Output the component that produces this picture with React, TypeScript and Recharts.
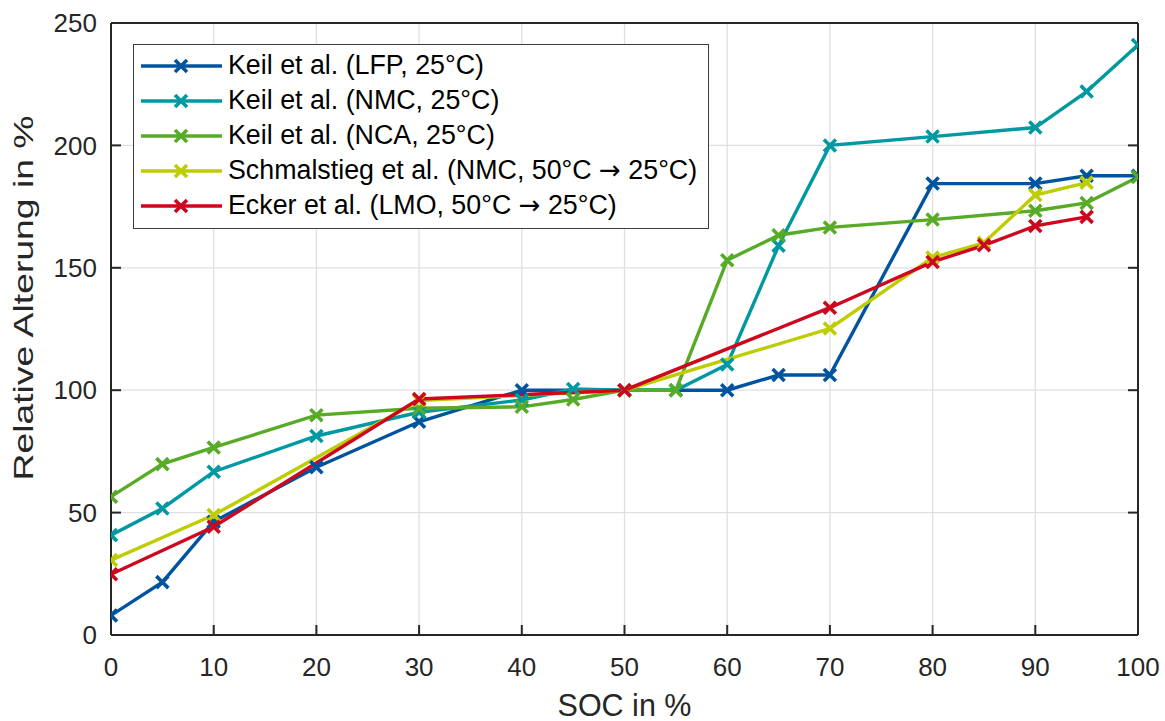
import { LineChart, Line, XAxis, YAxis, CartesianGrid, Label } from 'recharts';

// SOC ticks / Alterung ticks
const socTicks = [0, 10, 20, 30, 40, 50, 60, 70, 80, 90, 100];
const alterungTicks = [0, 50, 100, 150, 200, 250];

// Keil et al. (LFP, 25°C)
const lfpSoc = [0, 5, 10, 20, 30, 40, 50, 60, 65, 70, 80, 90, 95, 100];
const lfpAlterung = [8, 21.6, 46.3, 68.5, 87.1, 100, 100, 100, 106.2, 106.2, 184.4, 184.4, 187.6, 187.6];

// Keil et al. (NMC, 25°C)
const nmcSoc = [0, 5, 10, 20, 30, 40, 45, 50, 55, 60, 65, 70, 80, 90, 95, 100];
const nmcAlterung = [40.8, 51.7, 66.7, 81.3, 91, 96, 100.5, 100, 100, 110.5, 159, 200, 203.6, 207.3, 222, 241];

// Keil et al. (NCA, 25°C)
const ncaSoc = [0, 5, 10, 20, 30, 40, 45, 50, 55, 60, 65, 70, 80, 90, 95, 100];
const ncaAlterung = [56.5, 69.8, 76.6, 89.8, 92.6, 93.2, 96.2, 100, 100, 153.1, 163.3, 166.5, 169.7, 173.3, 176.5, 187.1];

// Schmalstieg et al. (NMC, 50°C -> 25°C)
const schmalstiegSoc = [0, 10, 30, 50, 70, 80, 85, 90, 95];
const schmalstiegAlterung = [30.6, 49, 95.8, 100, 125.2, 154.2, 160.2, 179.7, 184.8];

// Ecker et al. (LMO, 50°C -> 25°C)
const eckerSoc = [0, 10, 30, 50, 70, 80, 85, 90, 95];
const eckerAlterung = [24.8, 44.2, 96.4, 100, 133.7, 152.4, 159.2, 167.1, 170.8];

const seriesNames = [
  'Keil et al. (LFP, 25°C)',
  'Keil et al. (NMC, 25°C)',
  'Keil et al. (NCA, 25°C)',
  'Schmalstieg et al. (NMC, 50°C \u2192 25°C)',
  'Ecker et al. (LMO, 50°C \u2192 25°C)',
];
const seriesColors = ['#00549F', '#0098A1', '#57AB27', '#BDCD00', '#CC071E'];

const toPoints = (soc: number[], values: number[]) =>
  soc.map((s, i) => ({ soc: s, alterung: values[i] }));

const seriesData = [
  toPoints(lfpSoc, lfpAlterung),
  toPoints(nmcSoc, nmcAlterung),
  toPoints(ncaSoc, ncaAlterung),
  toPoints(schmalstiegSoc, schmalstiegAlterung),
  toPoints(eckerSoc, eckerAlterung),
];

const FONT = '"Liberation Sans", Arial, Helvetica, sans-serif';
const AXIS_COLOR = '#262626';
const TICK_LEN = 10;

function makeCross(color: string) {
  return (props: any) => {
    const { cx, cy, index } = props;
    if (cx == null || cy == null) return <g key={`c-${index}`} />;
    const s = 6;
    return (
      <path
        key={`c-${index}`}
        d={`M${cx - s},${cy - s}L${cx + s},${cy + s}M${cx - s},${cy + s}L${cx + s},${cy - s}`}
        stroke={color}
        strokeWidth={3.6}
        fill='none'
      />
    );
  };
}

// inward tick marks, MATLAB style
const BottomTick = (props: any) => {
  const { x, y, payload } = props;
  const axisY = y - 23;
  return (
    <g>
      <line x1={x} y1={axisY} x2={x} y2={axisY - TICK_LEN} stroke={AXIS_COLOR} strokeWidth={2} />
      <text x={x} y={y} dy='0.71em' textAnchor='middle' fontFamily={FONT} fontSize={26} fill={AXIS_COLOR}>
        {payload.value}
      </text>
    </g>
  );
};

const LeftTick = (props: any) => {
  const { x, y, payload } = props;
  const axisX = x + 14;
  return (
    <g>
      <line x1={axisX} y1={y} x2={axisX + TICK_LEN} y2={y} stroke={AXIS_COLOR} strokeWidth={2} />
      <text x={x} y={y} dy='0.355em' textAnchor='end' fontFamily={FONT} fontSize={26} fill={AXIS_COLOR}>
        {payload.value}
      </text>
    </g>
  );
};

const TopTick = (props: any) => {
  const { x, y } = props;
  return <line x1={x} y1={y} x2={x} y2={y + TICK_LEN} stroke={AXIS_COLOR} strokeWidth={2} />;
};

const RightTick = (props: any) => {
  const { x, y } = props;
  return <line x1={x} y1={y} x2={x - TICK_LEN} y2={y} stroke={AXIS_COLOR} strokeWidth={2} />;
};

const renderYLabel = (props: any) => {
  const { viewBox } = props;
  const x = viewBox.x + 33;
  const y = 298;
  return (
    <text
      x={x}
      y={y}
      transform={`rotate(-90 ${x} ${y})`}
      textAnchor='middle'
      fontFamily={FONT}
      fontSize={28}
      fill={AXIS_COLOR}
      textLength={365}
      lengthAdjust='spacingAndGlyphs'
    >
      Relative Alterung in %
    </text>
  );
};

const renderXLabel = (props: any) => {
  const { viewBox } = props;
  return (
    <text
      x={viewBox.x + viewBox.width / 2}
      y={716}
      textAnchor='middle'
      fontFamily={FONT}
      fontSize={30.5}
      fill={AXIS_COLOR}
    >
      SOC in %
    </text>
  );
};

function LegendName({ name }: { name: string }) {
  const parts = name.split('\u2192');
  if (parts.length === 1) return <span>{name}</span>;
  return (
    <span>
      {parts[0]}
      <span style={{ fontFamily: '"DejaVu Sans", sans-serif', fontSize: 26 }}>{'\u2192'}</span>
      {parts[1]}
    </span>
  );
}

function LegendBox() {
  return (
    <div
      style={{
        position: 'absolute',
        left: 133,
        top: 44,
        width: 574,
        height: 180,
        border: '1.5px solid #3c3c3c',
        background: '#fff',
        fontFamily: FONT,
        fontSize: 26.8,
        color: '#000',
        paddingTop: 3,
        boxSizing: 'content-box',
      }}
    >
      {seriesNames.map((name, i) => (
        <div
          key={name}
          style={{ height: 35, display: 'flex', alignItems: 'center', whiteSpace: 'nowrap' }}
        >
          <svg width={94} height={20} style={{ flex: 'none' }}>
            <line x1={7} y1={10} x2={88} y2={10} stroke={seriesColors[i]} strokeWidth={3.4} />
            <path d='M41,4L53,16M41,16L53,4' stroke={seriesColors[i]} strokeWidth={3.6} />
          </svg>
          <LegendName name={name} />
        </div>
      ))}
    </div>
  );
}

export default function App() {
  return (
    <div style={{ position: 'absolute', left: 0, top: 0, width: 1165, height: 721, background: '#fff' }}>
      <LineChart width={1165} height={721} margin={{ top: 22, right: 26, bottom: 0, left: 0 }}>
        <CartesianGrid stroke='#e0e0e0' strokeWidth={1.3} />
        <XAxis
          xAxisId={0}
          dataKey='soc'
          type='number'
          domain={[0, 100]}
          ticks={socTicks}
          interval={0}
          height={86}
          allowDataOverflow
          axisLine={{ stroke: AXIS_COLOR, strokeWidth: 2 }}
          tickLine={false}
          tickSize={0}
          tickMargin={23}
          tick={<BottomTick />}
        >
          <Label content={renderXLabel} />
        </XAxis>
        <XAxis
          xAxisId='top'
          orientation='top'
          type='number'
          domain={[0, 100]}
          ticks={socTicks}
          interval={0}
          height={1}
          allowDataOverflow
          axisLine={{ stroke: AXIS_COLOR, strokeWidth: 2 }}
          tickLine={false}
          tickSize={0}
          tickMargin={0}
          tick={<TopTick />}
        />
        <YAxis
          yAxisId={0}
          type='number'
          domain={[0, 250]}
          ticks={alterungTicks}
          interval={0}
          width={111}
          allowDataOverflow
          axisLine={{ stroke: AXIS_COLOR, strokeWidth: 2 }}
          tickLine={false}
          tickSize={0}
          tickMargin={14}
          tick={<LeftTick />}
        >
          <Label content={renderYLabel} />
        </YAxis>
        <YAxis
          yAxisId='right'
          orientation='right'
          type='number'
          domain={[0, 250]}
          ticks={alterungTicks}
          interval={0}
          width={1}
          allowDataOverflow
          axisLine={{ stroke: AXIS_COLOR, strokeWidth: 2 }}
          tickLine={false}
          tickSize={0}
          tickMargin={0}
          tick={<RightTick />}
        />
        {seriesData.map((points, i) => (
          <Line
            key={seriesNames[i]}
            data={points}
            dataKey='alterung'
            name={seriesNames[i]}
            type='linear'
            stroke={seriesColors[i]}
            strokeWidth={3.4}
            dot={makeCross(seriesColors[i])}
            activeDot={false}
            isAnimationActive={false}
          />
        ))}
      </LineChart>
      <LegendBox />
    </div>
  );
}
